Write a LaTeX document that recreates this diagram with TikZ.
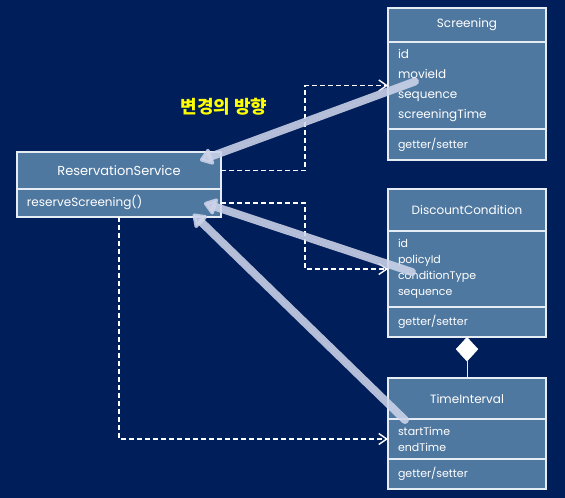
\documentclass[tikz,border=0pt]{standalone}
\usepackage{fontspec}
\setmainfont{Poppins}
\newfontfamily\krfont{Noto Sans CJK KR}
\usetikzlibrary{arrows.meta, shapes.geometric, positioning, calc}
\definecolor{bgnavy}{HTML}{001E5A}
\definecolor{boxfill}{HTML}{4F78A0}
\definecolor{boxline}{HTML}{E6ECF4}
\definecolor{flow}{HTML}{CDD4EA}
\definecolor{note}{HTML}{FFFF00}

\begin{document}
\begin{tikzpicture}[x=1pt, y=-1pt,
    cls/.style={draw=boxline, fill=boxfill, line width=1.2pt, text=white, inner sep=0pt, outer sep=0pt},
    ttl/.style={cls, minimum width=158pt, font=\fontsize{12}{14}\selectfont},
    mem/.style={cls, text width=138pt, inner xsep=10pt, align=left, font=\fontsize{11}{16}\selectfont},
    dep/.style={draw=white, line width=1.4pt, dash pattern=on 5pt off 3pt, -{Straight Barb[length=8pt, width=11pt]}},
    change/.style={draw=flow, fill=flow, opacity=0.88, line width=8pt, line cap=round, -{Triangle[round, length=14pt, width=19pt]}}]
    % Canvas
    \fill[bgnavy] (0,0) rectangle (565,498);
    \useasboundingbox (0,0) rectangle (565,498);

    % Classes
    \node[ttl, anchor=north west, minimum height=34pt] (scrT) at (388,8) {Screening};
    \node[mem, minimum height=87pt, below=0pt of scrT, font=\fontsize{12}{20}\selectfont] (scrA) {id\\movieId\\sequence\\screeningTime};
    \node[mem, minimum height=31pt, below=0pt of scrA] (scrM) {getter/setter};

    \node[ttl, anchor=north west, minimum width=204pt, minimum height=37pt, font=\fontsize{13}{15}\selectfont] (rsT) at (17,152) {ReservationService};
    \node[mem, text width=184pt, minimum height=28pt, below=0pt of rsT, font=\fontsize{12}{14}\selectfont] (rsM) {reserveScreening()};

    \node[ttl, anchor=north west, minimum height=42pt] (dcT) at (388,189) {DiscountCondition};
    \node[mem, minimum height=76pt, below=0pt of dcT] (dcA) {id\\policyId\\conditionType\\sequence};
    \node[mem, minimum height=30pt, below=0pt of dcA] (dcM) {getter/setter};

    \node[ttl, anchor=north west, minimum height=41pt] (tiT) at (388,378) {TimeInterval};
    \node[mem, minimum height=40pt, below=0pt of tiT] (tiA) {startTime\\endTime};
    \node[mem, minimum height=30pt, below=0pt of tiA] (tiM) {getter/setter};

    % Dependencies
    \draw[dep] (rsT.east) -- ++(84,0) |- (scrA.west);
    \draw[dep] (rsM.east) -- ++(84,0) |- (dcA.west);
    \draw[dep] (rsM.south) |- (tiA.west);

    % Aggregation
    \node[diamond, draw=white, fill=white, minimum width=22pt, minimum height=24pt, inner sep=0pt, anchor=north] (agg) at (dcM.south) {};
    \draw[boxline, line width=1pt] (agg.south) -- (tiT.north);

    % Direction of change
    \coordinate (fromScr) at ($(scrA.west)+(27,-4)$);
    \coordinate (toScr) at ($(rsT.east)+(-21,-10)$);
    \coordinate (fromDc) at ($(dcA.west)+(24,3)$);
    \coordinate (toDc) at ($(rsM.east)+(-17,0)$);
    \coordinate (fromTi) at ($(tiA.north west)+(17,1)$);
    \coordinate (toTi) at ($(rsM.south east)+(-28,-3)$);
    \draw[change] (fromScr) -- (toScr);
    \draw[change] (fromDc) -- (toDc);
    \draw[change] (fromTi) -- (toTi);

    % Labels
    \node[text=note, font=\krfont\bfseries\fontsize{18}{21}\selectfont] (dir) at (224,107) {변경의 방향};
\end{tikzpicture}
\end{document}
